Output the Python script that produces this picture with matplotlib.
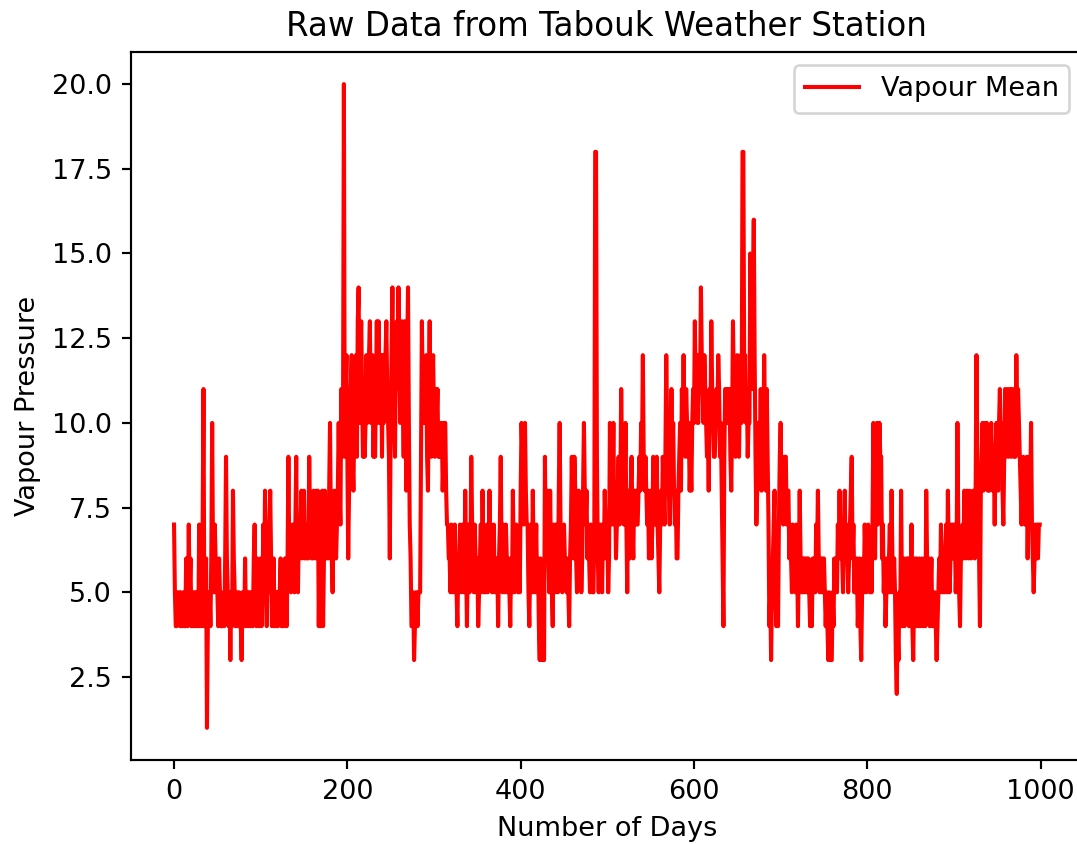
import matplotlib
matplotlib.use('Agg')
import matplotlib.pyplot as plt

# Daily mean vapour pressure (days 0..999)
vapour_mean = [
    7, 5, 4, 4, 5, 5, 5, 4, 5, 4, 4, 5, 4, 4, 6, 5, 4, 7, 5, 6, 4, 4, 5, 4, 5,
    4, 5, 4, 4, 7, 4, 5, 4, 7, 11, 4, 5, 6, 1, 4, 5, 5, 4, 6, 10, 6, 5, 7, 6, 5,
    5, 4, 6, 5, 4, 4, 4, 5, 4, 6, 9, 6, 5, 4, 5, 3, 5, 4, 8, 6, 5, 4, 4, 5, 4,
    5, 4, 4, 3, 5, 4, 4, 6, 4, 5, 5, 4, 5, 5, 4, 5, 4, 6, 7, 5, 4, 6, 5, 4, 5,
    6, 4, 5, 7, 5, 8, 5, 4, 6, 5, 7, 8, 6, 4, 5, 6, 4, 5, 4, 5, 4, 5, 5, 6, 4,
    4, 5, 4, 6, 5, 4, 6, 9, 6, 7, 5, 6, 7, 6, 5, 7, 9, 6, 5, 7, 6, 7, 8, 6, 7,
    8, 6, 7, 6, 7, 6, 9, 7, 7, 6, 6, 8, 7, 6, 8, 7, 8, 4, 6, 4, 7, 8, 4, 6, 8,
    7, 6, 7, 6, 8, 10, 7, 6, 5, 7, 8, 7, 6, 7, 8, 10, 8, 7, 11, 9, 10, 20, 9, 11, 12,
    9, 6, 8, 10, 11, 12, 9, 8, 10, 11, 12, 9, 13, 14, 10, 12, 13, 11, 9, 10, 9, 10, 12, 10, 11,
    12, 13, 10, 11, 12, 9, 10, 9, 11, 13, 10, 13, 11, 10, 12, 9, 12, 10, 11, 12, 13, 11, 10, 9, 6,
    10, 12, 14, 11, 10, 9, 12, 13, 11, 14, 12, 10, 12, 13, 11, 9, 13, 12, 8, 12, 14, 10, 7, 6, 4,
    4, 5, 3, 4, 5, 5, 4, 5, 5, 5, 9, 13, 11, 10, 10, 11, 12, 9, 8, 11, 13, 10, 9, 11, 12,
    10, 9, 11, 10, 11, 9, 10, 9, 9, 10, 8, 9, 10, 10, 8, 7, 7, 6, 6, 5, 7, 6, 5, 6, 7,
    6, 5, 4, 6, 5, 7, 6, 5, 7, 6, 5, 8, 6, 4, 6, 7, 5, 6, 9, 7, 6, 5, 7, 6, 5,
    6, 4, 5, 6, 7, 5, 8, 6, 5, 5, 6, 7, 5, 6, 8, 6, 7, 5, 6, 7, 5, 6, 5, 6, 4,
    6, 7, 9, 6, 5, 7, 6, 5, 7, 6, 5, 6, 5, 4, 6, 5, 8, 6, 5, 6, 7, 6, 5, 6, 5,
    8, 10, 9, 7, 8, 10, 8, 7, 7, 5, 4, 6, 7, 5, 8, 6, 5, 6, 7, 5, 6, 4, 3, 6, 3,
    5, 3, 3, 9, 6, 7, 8, 6, 5, 8, 6, 5, 4, 7, 6, 5, 7, 6, 5, 8, 10, 7, 6, 5, 6,
    7, 6, 6, 5, 6, 5, 4, 6, 7, 9, 7, 6, 9, 8, 6, 5, 7, 8, 6, 7, 5, 6, 8, 10, 8,
    7, 8, 6, 7, 6, 5, 7, 6, 5, 5, 7, 18, 18, 9, 6, 5, 6, 7, 6, 5, 7, 6, 8, 7, 6,
    7, 5, 6, 10, 8, 7, 8, 10, 7, 8, 6, 7, 8, 9, 7, 8, 11, 9, 8, 7, 8, 10, 7, 5, 8,
    7, 6, 8, 9, 7, 6, 8, 7, 8, 7, 7, 8, 9, 8, 10, 9, 12, 9, 8, 9, 8, 7, 8, 6, 7,
    8, 6, 7, 9, 8, 7, 8, 9, 7, 6, 5, 7, 8, 7, 9, 8, 7, 9, 12, 10, 9, 8, 7, 9, 11,
    9, 10, 8, 7, 8, 6, 6, 8, 9, 10, 8, 11, 10, 12, 10, 9, 11, 10, 9, 10, 8, 9, 8, 10, 11,
    10, 13, 11, 12, 10, 10, 12, 11, 14, 12, 11, 10, 12, 11, 10, 9, 10, 8, 11, 10, 13, 11, 10, 9, 9,
    10, 11, 10, 12, 11, 9, 10, 8, 6, 4, 9, 11, 10, 11, 10, 11, 11, 9, 8, 10, 13, 11, 10, 9, 11,
    12, 10, 9, 11, 12, 10, 18, 18, 11, 12, 10, 11, 9, 10, 10, 15, 12, 11, 14, 16, 12, 9, 7, 8, 10,
    10, 9, 11, 8, 10, 9, 12, 10, 8, 11, 9, 7, 4, 5, 3, 5, 6, 7, 8, 5, 4, 6, 4, 7, 9,
    10, 8, 9, 7, 8, 9, 9, 7, 8, 8, 6, 7, 6, 5, 7, 6, 6, 5, 7, 6, 4, 6, 8, 6, 5,
    6, 5, 6, 5, 6, 6, 5, 6, 5, 4, 5, 4, 6, 5, 6, 5, 7, 6, 8, 6, 5, 6, 5, 6, 5,
    6, 5, 4, 5, 4, 3, 5, 4, 3, 3, 5, 4, 6, 5, 6, 5, 7, 6, 8, 6, 7, 6, 5, 7, 8,
    6, 7, 6, 5, 6, 7, 8, 9, 6, 7, 5, 6, 5, 6, 4, 5, 6, 4, 3, 5, 6, 5, 7, 6, 5,
    6, 7, 6, 5, 6, 5, 7, 10, 8, 6, 9, 10, 7, 8, 10, 9, 9, 6, 7, 5, 6, 4, 5, 6, 5,
    6, 7, 5, 8, 6, 5, 6, 5, 3, 2, 4, 3, 5, 4, 8, 5, 4, 6, 4, 5, 6, 5, 6, 4, 6,
    5, 7, 4, 3, 5, 6, 4, 6, 5, 4, 6, 4, 5, 6, 4, 5, 6, 4, 8, 6, 5, 6, 4, 5, 6,
    4, 5, 4, 5, 4, 3, 4, 5, 6, 5, 7, 6, 5, 6, 5, 6, 7, 5, 8, 6, 5, 6, 7, 6, 7,
    6, 7, 5, 6, 10, 7, 5, 4, 6, 6, 7, 6, 8, 7, 6, 8, 7, 6, 8, 7, 6, 7, 8, 7, 6,
    8, 12, 9, 7, 6, 4, 8, 9, 10, 8, 9, 10, 9, 10, 8, 9, 8, 9, 10, 9, 8, 9, 7, 9, 10,
    9, 8, 10, 11, 9, 10, 8, 7, 9, 11, 9, 10, 11, 9, 10, 11, 9, 11, 10, 9, 11, 9, 12, 10, 11,
    10, 9, 8, 7, 8, 9, 8, 7, 8, 9, 6, 8, 9, 8, 10, 7, 6, 5, 6, 7, 6, 7, 6, 7, 7,
]
days = list(range(len(vapour_mean)))

dpi = 195
fig = plt.figure(figsize=(1077 / dpi, 844 / dpi), dpi=dpi)
ax = fig.add_axes([0.1214, 0.0995, 0.8842, 0.839])
ax.plot(days, vapour_mean, color='red', label='Vapour Mean')
ax.set_title('Raw Data from Tabouk Weather Station')
ax.set_xlabel('Number of Days')
ax.set_ylabel('Vapour Pressure')
ax.legend(loc='upper right')
# the right edge of the frame falls just outside the saved picture
ax.spines['right'].set_visible(False)

fig.savefig('out.png', dpi=dpi)
